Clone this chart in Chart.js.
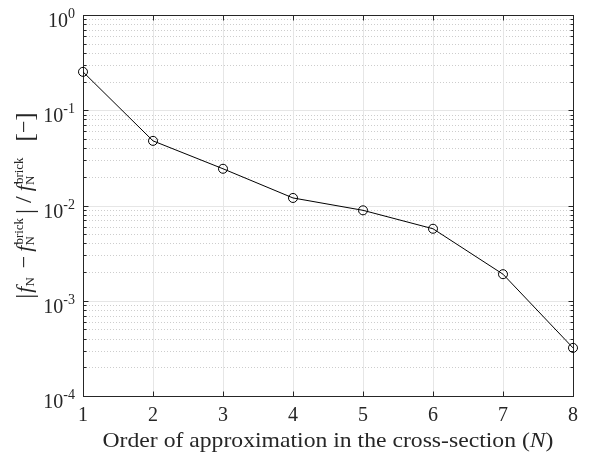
<!DOCTYPE html>
<html>
<head>
<meta charset="utf-8">
<script src="https://cdn.jsdelivr.net/npm/chart.js@4"></script>
<style>
  html, body { margin: 0; padding: 0; background: #fff; }
  #wrap { width: 596px; height: 453px; }
</style>
</head>
<body>
<div id="wrap"><canvas id="err-chart" width="596" height="453"></canvas></div>
<script>
// Waarden
const orders = [1, 2, 3, 4, 5, 6, 7, 8];
const relError = [0.253, 0.0477, 0.0243, 0.0120, 0.0089, 0.0057, 0.0019, 0.00032];
const xTickLabels = ['1', '2', '3', '4', '5', '6', '7', '8'];
const yTickExponents = [0, -1, -2, -3, -4];
const xTitle = 'Order of approximation in the cross-section (';

const FONT = '"Liberation Serif", "DejaVu Serif", serif';
const AXIS_COLOR = '#262626';
const SCRIPT = 13;

function fnt(sz, it) {
    return (it ? 'italic ' : '') + sz + 'px ' + FONT;
}

// Rich text: items are {t, it, sz}, {sub, sup} or {gap}
function itemWidth(ctx, item) {
    if (item.gap !== undefined) return item.gap;
    if (item.t !== undefined) {
        ctx.font = fnt(item.sz || 22, item.it);
        return ctx.measureText(item.t).width;
    }
    ctx.font = fnt(SCRIPT, false);
    const w1 = item.sub ? ctx.measureText(item.sub).width : 0;
    const w2 = item.sup ? ctx.measureText(item.sup).width : 0;
    return Math.max(w1, w2) + 1;
}

function drawRich(ctx, items, x, y) {
    let cx = x;
    items.forEach(item => {
        const w = itemWidth(ctx, item);
        if (item.gap !== undefined) {
            // alleen ruimte
        } else if (item.t !== undefined) {
            ctx.font = fnt(item.sz || 22, item.it);
            ctx.fillText(item.t, cx, y + (item.dy || 0));
        } else {
            ctx.font = fnt(SCRIPT, false);
            if (item.sub) ctx.fillText(item.sub, cx, y + 3);
            if (item.sup) ctx.fillText(item.sup, cx + 1, y - 8);
        }
        cx += w;
    });
    return cx - x;
}

function richWidth(ctx, items) {
    return items.reduce((s, it) => s + itemWidth(ctx, it), 0);
}

const yLabel = [
    { t: '|', sz: 25, dy: 2 }, { gap: 1 }, { t: 'f', it: true }, { sub: 'N' },
    { gap: 8 }, { t: '−' }, { gap: 4 },
    { t: 'f', it: true }, { sub: 'N', sup: 'brick' }, { gap: 4 }, { t: '|', sz: 25, dy: 2 },
    { gap: 6 }, { t: '/', sz: 24 }, { gap: 5 },
    { t: 'f', it: true }, { sub: 'N', sup: 'brick' },
    { gap: 16 }, { t: '[', sz: 25, dy: 2 }, { t: '−' }, { t: ']', sz: 25, dy: 2 }
];

// Plugin voor raster, assen en labels in MATLAB-stijl
const matlabAxes = {
    id: 'matlabAxes',
    beforeDatasetsDraw(chart) {
        const ctx = chart.ctx;
        const a = chart.chartArea;
        const xs = chart.scales.x, ys = chart.scales.y;
        ctx.save();
        // minor y grid (dotted)
        ctx.strokeStyle = '#cdcdcd';
        ctx.lineWidth = 1;
        ctx.setLineDash([1, 2]);
        for (let e = -4; e < 0; e++) {
            for (let m = 2; m <= 9; m++) {
                const py = Math.round(ys.getPixelForValue(m * Math.pow(10, e))) + 0.5;
                ctx.beginPath(); ctx.moveTo(a.left, py); ctx.lineTo(a.right, py); ctx.stroke();
            }
        }
        ctx.setLineDash([]);
        // major grid
        ctx.strokeStyle = '#e6e6e6';
        orders.forEach(v => {
            const px = Math.round(xs.getPixelForValue(v)) + 0.5;
            ctx.beginPath(); ctx.moveTo(px, a.top); ctx.lineTo(px, a.bottom); ctx.stroke();
        });
        yTickExponents.forEach(e => {
            const py = Math.round(ys.getPixelForValue(Math.pow(10, e))) + 0.5;
            ctx.beginPath(); ctx.moveTo(a.left, py); ctx.lineTo(a.right, py); ctx.stroke();
        });
        // box
        ctx.strokeStyle = AXIS_COLOR;
        const L = Math.round(a.left) + 0.5, R = Math.round(a.right) + 0.5;
        const T = Math.round(a.top) + 0.5, B = Math.round(a.bottom) + 0.5;
        ctx.strokeRect(L, T, R - L, B - T);
        // x ticks (bottom + top, inward)
        orders.forEach(v => {
            const px = Math.round(xs.getPixelForValue(v)) + 0.5;
            ctx.beginPath();
            ctx.moveTo(px, B); ctx.lineTo(px, B - 5);
            ctx.moveTo(px, T); ctx.lineTo(px, T + 5);
            ctx.stroke();
        });
        // y ticks (left + right)
        for (let e = -4; e <= 0; e++) {
            for (let m = 1; m <= 9; m++) {
                if (e === 0 && m > 1) break;
                const py = Math.round(ys.getPixelForValue(m * Math.pow(10, e))) + 0.5;
                const len = m === 1 ? 5 : 3;
                ctx.beginPath();
                ctx.moveTo(L, py); ctx.lineTo(L + len, py);
                ctx.moveTo(R, py); ctx.lineTo(R - len, py);
                ctx.stroke();
            }
        }
        ctx.restore();
    },
    afterDraw(chart) {
        const ctx = chart.ctx;
        const a = chart.chartArea;
        const xs = chart.scales.x, ys = chart.scales.y;
        ctx.save();
        ctx.fillStyle = AXIS_COLOR;
        ctx.textBaseline = 'alphabetic';
        // x tick labels
        ctx.font = fnt(20, false);
        ctx.textAlign = 'center';
        orders.forEach((v, i) => {
            ctx.fillText(xTickLabels[i], xs.getPixelForValue(v), a.bottom + 25);
        });
        // y tick labels 10^e
        ctx.textAlign = 'left';
        yTickExponents.forEach(e => {
            const py = ys.getPixelForValue(Math.pow(10, e));
            ctx.font = fnt(14, false);
            const supW = ctx.measureText(String(e)).width;
            ctx.font = fnt(20, false);
            const baseW = ctx.measureText('10').width;
            const x0 = a.left - 8 - supW - baseW;
            ctx.fillText('10', x0, py + 12);
            ctx.font = fnt(14, false);
            ctx.fillText(String(e), x0 + baseW, py + 3);
        });
        // x title, iets breder zoals het LaTeX-lettertype
        const xItems = [{ t: xTitle, sz: 22 }, { t: 'N', it: true, sz: 22 }, { t: ')', sz: 22 }];
        const xw = richWidth(ctx, xItems);
        const sx = 451 / xw;
        ctx.save();
        ctx.translate((a.left + a.right) / 2 - 451 / 2, a.bottom + 51);
        ctx.scale(sx, 1);
        drawRich(ctx, xItems, 0, 0);
        ctx.restore();
        // y title (rotated)
        ctx.translate(31, (a.top + a.bottom) / 2);
        ctx.rotate(-Math.PI / 2);
        const yw = richWidth(ctx, yLabel);
        drawRich(ctx, yLabel, -yw / 2, 0);
        ctx.restore();
    }
};

const ctx = document.getElementById('err-chart').getContext('2d');
const errChart = new Chart(ctx, {
    type: 'line',
    data: {
        datasets: [{
            data: orders.map((n, i) => ({ x: n, y: relError[i] })),
            borderColor: '#000',
            borderWidth: 1,
            pointStyle: 'circle',
            pointRadius: 4.5,
            pointBorderWidth: 1,
            pointBorderColor: '#000',
            pointBackgroundColor: 'rgba(0,0,0,0)',
            tension: 0,
            clip: false
        }]
    },
    options: {
        responsive: false,
        animation: false,
        devicePixelRatio: 1,
        layout: { padding: { left: 83, right: 23, top: 15, bottom: 57 } },
        plugins: { legend: { display: false }, tooltip: { enabled: false } },
        scales: {
            x: { type: 'linear', min: 1, max: 8, display: false },
            y: { type: 'logarithmic', min: 1e-4, max: 1, display: false }
        }
    },
    plugins: [matlabAxes]
});
</script>
</body>
</html>
